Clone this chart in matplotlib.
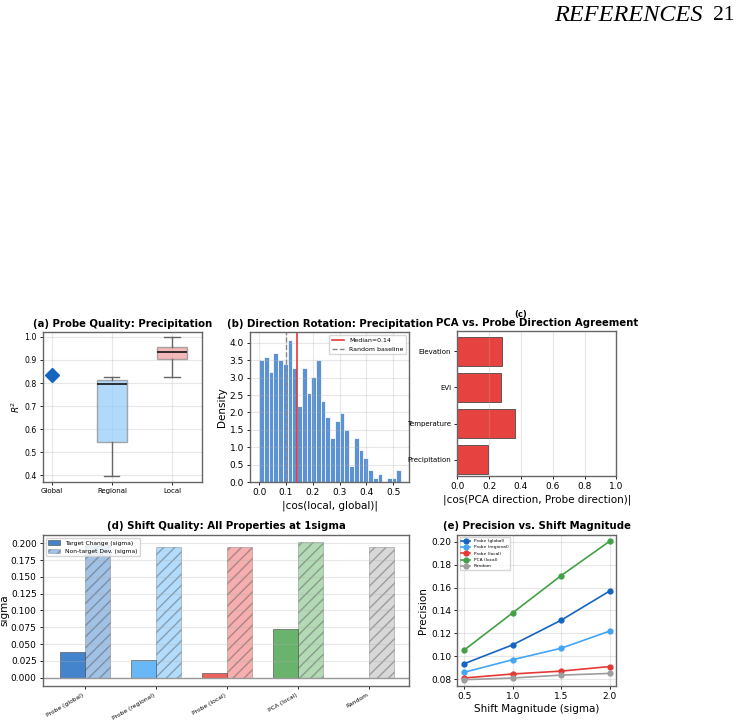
import numpy as np
import matplotlib
matplotlib.use("Agg")
import matplotlib.pyplot as plt

# (a) probe quality (R^2)
global_r2 = 0.836
regional_stats = dict(whislo=0.395, q1=0.545, med=0.797, q3=0.815, whishi=0.825)
local_stats = dict(whislo=0.827, q1=0.905, med=0.935, q3=0.957, whishi=1.0)
quality_labels = ["Global", "Regional", "Local"]

# (b) histogram of |cos(local, global)|
bin_lo, bin_hi = 0.0, 0.53
density = [3.50, 3.60, 3.15, 3.72, 3.50, 3.38, 4.08, 3.27, 2.20, 3.27,
           2.56, 3.03, 3.50, 2.33, 1.86, 1.28, 1.75, 1.98, 1.50, 0.47,
           1.28, 0.93, 0.70, 0.35, 0.12, 0.23, 0.0, 0.12, 0.12, 0.35]
median_cos = 0.14
random_baseline = 0.10

# (c) PCA vs probe agreement
props = ["Precipitation", "Temperature", "EVI", "Elevation"]
agreement = [0.195, 0.365, 0.272, 0.282]

# (d) shift quality
methods = ["Probe (global)", "Probe (regional)", "Probe (local)", "PCA (local)", "Random"]
target_change = [0.038, 0.026, 0.007, 0.072, -0.001]
nontarget_dev = [0.197, 0.195, 0.194, 0.202, 0.195]
method_colors = ["#1565c0", "#42a5f5", "#e53935", "#43a047", "#9e9e9e"]

# (e) precision vs shift magnitude
magnitudes = [0.5, 1.0, 1.5, 2.0]
precision = {
    "Probe (global)": [0.0935, 0.110, 0.1315, 0.157],
    "Probe (regional)": [0.086, 0.097, 0.107, 0.122],
    "Probe (local)": [0.081, 0.0845, 0.087, 0.091],
    "PCA (local)": [0.1055, 0.138, 0.1705, 0.2005],
    "Random": [0.0795, 0.081, 0.0835, 0.085],
}

fig = plt.figure(figsize=(7.4, 7.24), dpi=100)

# page header
fig.text(0.95, 0.979, "REFERENCES", family="Liberation Serif", style="italic",
         fontsize=17.5, ha="right", va="center")
fig.text(0.993, 0.979, "21", family="Liberation Serif", fontsize=15.5,
         ha="right", va="center")

title_fs = 7.3


def style(ax, size=6.5):
    for s in ax.spines.values():
        s.set_color("#666666")
        s.set_linewidth(1.0)
    ax.tick_params(labelsize=size, length=2.5, width=0.6, pad=2)


# (a)
ax = fig.add_axes([0.058, 0.334, 0.215, 0.207])
style(ax, 5.6)
ax.plot([0], [global_r2], marker="D", color="#1565c0", markersize=7)
bx = ax.bxp([dict(regional_stats, label=""), dict(local_stats, label="")],
            positions=[1, 2], widths=0.5, patch_artist=True, showfliers=False,
            medianprops=dict(color="#222222", linewidth=1.3),
            whiskerprops=dict(color="#666666"), capprops=dict(color="#666666"))
for patch, c in zip(bx["boxes"], ["#90caf9", "#ef9a9a"]):
    patch.set_facecolor(c)
    patch.set_alpha(0.7)
    patch.set_edgecolor("#888888")
ax.set_xticks([0, 1, 2])
ax.set_xticklabels(quality_labels, fontsize=5)
ax.set_xlim(-0.15, 2.5)
ax.set_ylim(0.37, 1.02)
ax.set_ylabel("$R^2$", fontsize=6.5, labelpad=2)
ax.set_title("(a) Probe Quality: Precipitation", fontsize=title_fs, fontweight="bold", pad=4)
ax.grid(alpha=0.3)

# (b)
ax = fig.add_axes([0.338, 0.334, 0.215, 0.207])
style(ax)
edges = np.linspace(bin_lo, bin_hi, len(density) + 1)
ax.hist(edges[:-1], bins=edges, weights=density, color="#4a86d0", alpha=0.9,
        edgecolor="white", linewidth=0.6)
ax.axvline(median_cos, color="#e53935", linewidth=1.2, label=f"Median={median_cos:.2f}")
ax.axvline(random_baseline, color="#888888", linestyle="--", linewidth=1,
           label="Random baseline")
ax.set_xlim(-0.034, 0.56)
ax.set_ylim(0, 4.3)
ax.set_xticks(np.arange(0, 0.51, 0.1))
ax.set_yticks(np.arange(0, 4.01, 0.5))
ax.set_xlabel("|cos(local, global)|", fontsize=7.5, labelpad=2)
ax.set_ylabel("Density", fontsize=7.5, labelpad=2)
ax.set_title("(b) Direction Rotation: Precipitation", fontsize=title_fs, fontweight="bold", pad=4)
ax.legend(fontsize=4.5, loc="upper right")
ax.grid(alpha=0.3)

# (c)
ax = fig.add_axes([0.618, 0.3425, 0.215, 0.200])
style(ax)
ax.tick_params(axis="y", labelsize=5)
ax.barh(props, agreement, height=0.8, color="#e53935", edgecolor="#444444",
        linewidth=0.6, alpha=0.95)
ax.set_xlim(0, 1.0)
ax.set_ylim(-0.45, 3.55)
ax.set_xlabel("|cos(PCA direction, Probe direction)|", fontsize=7.5, labelpad=2)
ax.set_title("PCA vs. Probe Direction Agreement", fontsize=title_fs, fontweight="bold", pad=4)
fig.text(0.704, 0.562, "(c)", fontsize=6, fontweight="bold", ha="center")
ax.grid(axis="x", alpha=0.3)

# (d)
ax = fig.add_axes([0.058, 0.0525, 0.4946, 0.2086])
style(ax)
x = np.arange(len(methods))
w = 0.35
ax.bar(x - w / 2, target_change, w, color=method_colors, alpha=0.8,
       edgecolor="#444444", linewidth=0.5, label="Target Change (sigma)")
ax.bar(x + w / 2, nontarget_dev, w, color=method_colors, alpha=0.4, hatch="///",
       edgecolor="#444444", linewidth=0.5, label="Non-target Dev. (sigma)")
ax.axhline(0, color="#999999", linewidth=1)
ax.set_xticks(x)
ax.set_xticklabels(methods, rotation=30, ha="right", fontsize=4.3)
ax.set_ylim(-0.0124, 0.2124)
ax.set_xlim(-0.59, 4.56)
ax.set_yticks(np.arange(0, 0.201, 0.025))
ax.set_ylabel("sigma", fontsize=7.5, labelpad=1)
ax.set_title("(d) Shift Quality: All Properties at 1sigma", fontsize=title_fs, fontweight="bold", pad=4)
ax.legend(fontsize=4.3, loc="upper left")
ax.grid(axis="y", alpha=0.3)

# (e)
ax = fig.add_axes([0.618, 0.0525, 0.215, 0.2086])
style(ax)
for (name, vals), c in zip(precision.items(), method_colors):
    ax.plot(magnitudes, vals, marker="o", color=c, linewidth=1.2, markersize=3.5, label=name)
ax.set_xlim(0.428, 2.07)
ax.set_ylim(0.074, 0.206)
ax.set_xticks(magnitudes)
ax.set_xlabel("Shift Magnitude (sigma)", fontsize=7.5, labelpad=2)
ax.set_ylabel("Precision", fontsize=7.5, labelpad=2)
ax.set_title("(e) Precision vs. Shift Magnitude", fontsize=title_fs, fontweight="bold", pad=4)
ax.legend(fontsize=3.2, loc="upper left")
ax.grid(alpha=0.3)

fig.savefig("out.png", dpi=100)
